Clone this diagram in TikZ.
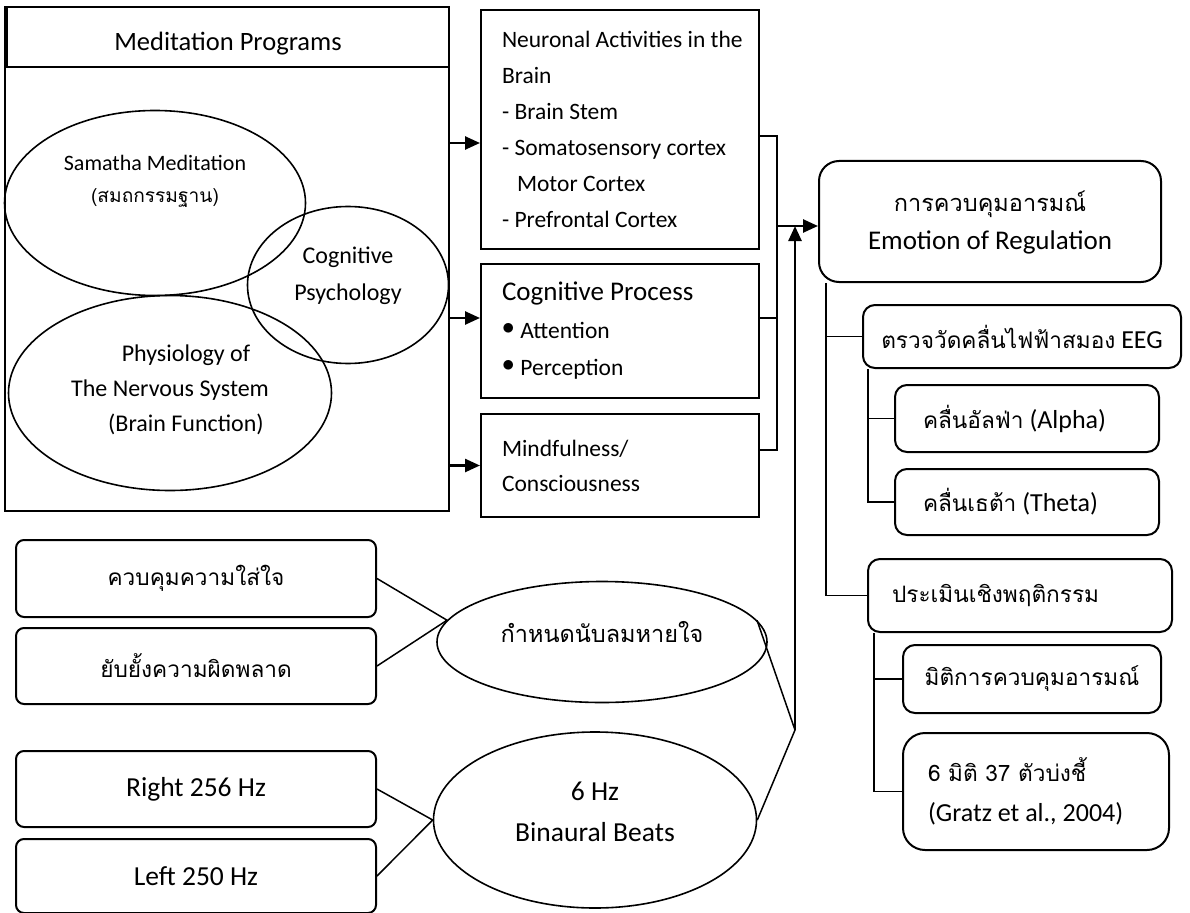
\documentclass[tikz,border=0pt]{standalone}
\usepackage{fontspec}
\setmainfont{Carlito}
\newfontfamily\thaifont[Script=Thai,Scale=0.87]{Loma}
\usepackage{tikz}
\usetikzlibrary{positioning,shapes,arrows,arrows.meta,calc}
\tikzstyle{box}=[rectangle, draw=black, line width=2pt, inner sep=0pt]
\tikzstyle{rbox}=[box, rounded corners=12pt]
\tikzstyle{oval}=[ellipse, draw=black, line width=1.6pt, inner sep=0pt]
\tikzstyle{every node}=[align=center, font=\fontsize{23}{36}\selectfont]
\tikzstyle{line}=[draw, line width=2.5pt, -{Triangle[length=15pt,width=13pt]}]
\tikzstyle{link}=[draw, line width=1.8pt]
\newcommand{\thai}[1]{{\thaifont #1}}
\newcommand{\bul}{\raisebox{4pt}{$\bullet$}\hspace{6pt}}
\newcommand{\lift}[2]{\raisebox{#1}[\height][\depth]{#2}}

\begin{document}
\begin{tikzpicture}[x=1pt, y=-1pt]
    \useasboundingbox (0,0) rectangle (1190,912);
    % meditation programs
    \node (program) [box, minimum width=444pt, minimum height=504pt] at (227,259) {};
    \node (progtitle) [box, minimum width=442pt, minimum height=60pt,
          font=\fontsize{26.5}{30}\selectfont] at (228,37) {\lift{-7pt}{Meditation Programs}};
    \node (samatha) [oval, minimum width=301pt, minimum height=185pt] at (155,203) {};
    \node (cogpsy) [oval, minimum width=201pt, minimum height=157pt] at (348,285) {};
    \node (physio) [oval, minimum width=323pt, minimum height=195pt] at (170,393) {};
    \node (samathatext) [font=\fontsize{22}{32}\selectfont] at (155,181)
          {Samatha Meditation\\\thai{(สมถกรรมฐาน)}};
    \node (cogpsytext) [font=\fontsize{24}{37}\selectfont] at (348,276)
          {Cognitive\\Psychology};
    \node (physiotext) [font=\fontsize{24}{35}\selectfont] at (170,390)
          {\hspace*{32pt}Physiology of\\The Nervous System\\\hspace*{32pt}(Brain Function)};
    % outcomes
    \node (neuron) [box, minimum width=278pt, minimum height=239pt, text width=236pt,
          align=flush left, inner xsep=21pt, font=\fontsize{23.5}{36}\selectfont] at (620,129.5)
          {\mbox{Neuronal Activities in the}\\Brain\\- Brain Stem\\\mbox{- Somatosensory cortex}\\
           \hspace*{15pt}Motor Cortex\\- Prefrontal Cortex};
    \node (cogproc) [box, minimum width=278pt, minimum height=134pt, text width=236pt,
          align=flush left, inner xsep=21pt, below=13pt of neuron,
          font=\fontsize{23.5}{37.5}\selectfont]
          {{\fontsize{27}{30}\selectfont Cognitive Process}\\\bul Attention\\\bul Perception};
    \node (mindful) [box, minimum width=278pt, minimum height=103pt, text width=236pt,
          align=flush left, inner xsep=21pt, below=14pt of cogproc,
          font=\fontsize{23.5}{35}\selectfont] {Mindfulness/\\Consciousness};
    \draw[line] ([yshift=-13.5pt]neuron.west -| program.east) -- ([yshift=-13.5pt]neuron.west);
    \draw[line] ([yshift=13pt]cogproc.west -| program.east) -- ([yshift=13pt]cogproc.west);
    \draw[line] (mindful.west -| program.east) -- (mindful.west);
    % emotion regulation
    \node (emotion) [rbox, rounded corners=20pt, minimum width=342pt, minimum height=121pt,
          font=\fontsize{27}{41}\selectfont] at (990,221.5)
          {\lift{-3pt}{\thai{การควบคุมอารมณ์}}\\Emotion of Regulation};
    \node (eeg) [rbox, minimum width=318pt, minimum height=63pt,
          font=\fontsize{26}{30}\selectfont] at (1022,336.5) {\thai{ตรวจวัดคลื่นไฟฟ้าสมอง} EEG};
    \node (alpha) [rbox, minimum width=264pt, minimum height=67pt, text width=208pt,
          align=flush left, inner xsep=28pt, font=\fontsize{26}{30}\selectfont]
          at (1027,418.5) {\thai{คลื่นอัลฟ่า} (Alpha)};
    \node (theta) [rbox, minimum width=264pt, minimum height=66pt, text width=208pt,
          align=flush left, inner xsep=28pt, font=\fontsize{26}{30}\selectfont,
          below=15pt of alpha] {\thai{คลื่นเธต้า} (Theta)};
    \node (behav) [rbox, minimum width=304pt, minimum height=73pt, text width=256pt,
          align=flush left, inner xsep=24pt, font=\fontsize{26}{30}\selectfont]
          at (1020,595.5) {\thai{ประเมินเชิงพฤติกรรม}};
    \node (dimension) [rbox, minimum width=258pt, minimum height=68pt,
          font=\fontsize{26}{30}\selectfont] at (1032,679) {\thai{มิติการควบคุมอารมณ์}};
    \node (gratz) [rbox, rounded corners=22pt, minimum width=266pt, minimum height=117pt,
          text width=216pt, align=flush left, inner xsep=25pt, font=\fontsize{26}{40}\selectfont]
          at (1036,791.5) {\thai{6 มิติ 37 ตัวบ่งชี้}\\(Gratz et al., 2004)};
    \coordinate (join) at (777,226);
    \draw[link] ([yshift=-6.5pt]neuron.east) -| ([yshift=15.5pt]mindful.east -| join)
          -- ([yshift=15.5pt]mindful.east);
    \draw[link] ([yshift=13pt]cogproc.east) -- ([yshift=13pt]cogproc.east -| join);
    \draw[line] (join) -- (join -| emotion.west);
    \draw[link] ([xshift=8pt]emotion.south west) |- (behav.west);
    \draw[link] ([xshift=8pt]emotion.south west |- eeg.west) -- (eeg.west);
    \draw[link] ([xshift=6pt]eeg.south west) |- (theta.west);
    \draw[link] ([xshift=6pt]eeg.south west |- alpha.west) -- (alpha.west);
    \draw[link] ([xshift=7pt]behav.south west) |- (gratz.west);
    \draw[link] ([xshift=7pt]behav.south west |- dimension.west) -- (dimension.west);
    % breathing and binaural beats
    \node (attend) [rbox, rounded corners=8pt, minimum width=360pt, minimum height=77pt,
          font=\fontsize{26}{30}\selectfont] at (196,578.5) {\thai{ควบคุมความใส่ใจ}};
    \node (inhibit) [rbox, rounded corners=8pt, minimum width=360pt, minimum height=76pt,
          font=\fontsize{26}{30}\selectfont, below=9pt of attend] {\thai{ยับยั้งความผิดพลาด}};
    \node (breath) [oval, minimum width=330pt, minimum height=121pt,
          font=\fontsize{27}{30}\selectfont] at (602,642) {\lift{10pt}{\thai{กำหนดนับลมหายใจ}}};
    \node (rightear) [rbox, rounded corners=8pt, minimum width=360pt, minimum height=76pt,
          font=\fontsize{27.5}{30}\selectfont] at (196,789) {Right 256 Hz};
    \node (leftear) [rbox, rounded corners=8pt, minimum width=360pt, minimum height=74pt,
          font=\fontsize{27.5}{30}\selectfont, below=10pt of rightear] {Left 250 Hz};
    \node (binaural) [oval, minimum width=323pt, minimum height=176pt,
          font=\fontsize{27.5}{41}\selectfont] at (595,820)
          {\lift{8pt}{6 Hz}\\\lift{8pt}{Binaural Beats}};
    \coordinate (meet) at (795,730);
    \draw[link, line width=1.5pt] (attend.east) -- (breath.172) -- (inhibit.east);
    \draw[link, line width=1.5pt] (rightear.east) -- (binaural.west) -- (leftear.east);
    \draw[link, line width=1.5pt] (breath.8) -- (meet) -- (binaural.east);
    \draw[line] (meet) -- (meet |- join);
\end{tikzpicture}
\end{document}
